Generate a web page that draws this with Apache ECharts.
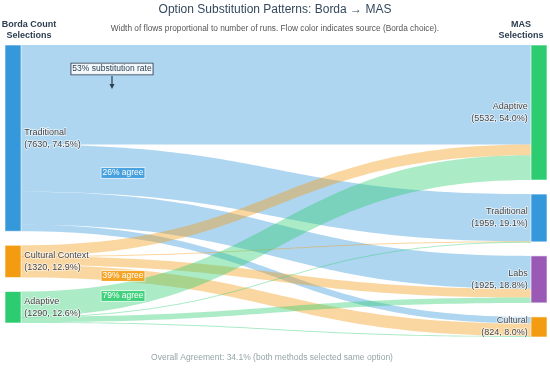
<!DOCTYPE html>
<html>
<head>
<meta charset="utf-8">
<script src="https://cdn.jsdelivr.net/npm/echarts@6/dist/echarts.min.js"></script>
<style>html,body{margin:0;padding:0;background:#fff}#c{width:550px;height:369px}</style>
</head>
<body>
<div id="c"></div>
<script>
// ---- data ----
const sourceNames = ['Traditional', 'Cultural Context', 'Adaptive'];   // Borda
const targetNames = ['Adaptive', 'Traditional', 'Labs', 'Cultural'];   // MAS
const sourceColors = ['#3498db', '#f39c12', '#2ecc71'];
const targetColors = ['#2ecc71', '#3498db', '#9b59b6', '#f39c12'];
// flows: rows = source, cols = target
const flowsFromTraditional = [4073, 1937, 1350, 270];
const flowsFromCultural    = [440, 12, 353, 515];
const flowsFromAdaptive    = [1019, 10, 222, 39];
const flowRows = [flowsFromTraditional, flowsFromCultural, flowsFromAdaptive];
const agreeLabels = ['26% agree', '39% agree', '79% agree'];
const substitutionLabel = '53% substitution rate';
const titleText = 'Option Substitution Patterns: Borda \u2192 MAS';
const subtitleText = 'Width of flows proportional to number of runs. Flow color indicates source (Borda choice).';
const footerText = 'Overall Agreement: 34.1% (both methods selected same option)';

// ---- build ----
const FONT = 'Liberation Sans, Arial, sans-serif';
const total = flowRows.reduce((s, r) => s + r.reduce((a, b) => a + b, 0), 0);
const srcTotals = flowRows.map(r => r.reduce((a, b) => a + b, 0));
const tgtTotals = targetNames.map((_, j) => flowRows.reduce((s, r) => s + r[j], 0));
const nodeInfo = {};
const nodes = [];
sourceNames.forEach((n, i) => {
  const id = 'S_' + n;
  nodeInfo[id] = { name: n, v: srcTotals[i] };
  nodes.push({ name: id, depth: 0, itemStyle: { color: sourceColors[i] }, label: { position: 'right' } });
});
targetNames.forEach((n, j) => {
  const id = 'T_' + n;
  nodeInfo[id] = { name: n, v: tgtTotals[j] };
  nodes.push({ name: id, depth: 1, itemStyle: { color: targetColors[j] }, label: { position: 'left' } });
});
function rgba(hex, a) {
  const r = parseInt(hex.slice(1, 3), 16), g = parseInt(hex.slice(3, 5), 16), b = parseInt(hex.slice(5, 7), 16);
  return `rgba(${r},${g},${b},${a})`;
}
const links = [];
flowRows.forEach((row, i) => row.forEach((v, j) => {
  links.push({ source: 'S_' + sourceNames[i], target: 'T_' + targetNames[j], value: v,
    lineStyle: { color: rgba(sourceColors[i], 0.4), opacity: 1 } });
}));

const chart = echarts.init(document.getElementById('c'), null, { renderer: 'canvas' });
const agreeBg = sourceColors.map(c => rgba(c, 0.85));
const agreeY = [173, 276, 296];

chart.setOption({
  animation: false,
  textStyle: { fontFamily: FONT },
  series: [{
    type: 'sankey',
    left: 5, right: 3, top: 45, bottom: 32,
    nodeWidth: 16, nodeGap: 14,
    layoutIterations: 0,
    draggable: false,
    emphasis: { disabled: true },
    data: nodes,
    links: links,
    itemStyle: { borderColor: '#fff', borderWidth: 0.6 },
    lineStyle: { curveness: 0.5 },
    label: {
      show: true, color: '#444', fontSize: 9, lineHeight: 12, fontFamily: FONT, distance: 3,
      textBorderColor: 'rgba(255,255,255,0.7)', textBorderWidth: 1.5,
      formatter: p => {
        const info = nodeInfo[p.name];
        return info.name + '\n(' + info.v + ', ' + (info.v / total * 100).toFixed(1) + '%)';
      }
    }
  }],
  graphic: [
    { type: 'text', z: 100, x: 275, y: 10, style: { text: titleText, fill: '#34495e', font: '12px ' + FONT, align: 'center', verticalAlign: 'middle' } },
    { type: 'text', z: 100, x: 275, y: 29, style: { text: subtitleText, fill: '#555', font: '8.3px ' + FONT, align: 'center', verticalAlign: 'middle' } },
    { type: 'text', z: 100, x: 29, y: 30, style: { text: 'Borda Count\nSelections', fill: '#2c3e50', font: 'bold 9px ' + FONT, lineHeight: 11, align: 'center', verticalAlign: 'middle' } },
    { type: 'text', z: 100, x: 521, y: 30, style: { text: 'MAS\nSelections', fill: '#2c3e50', font: 'bold 9px ' + FONT, lineHeight: 11, align: 'center', verticalAlign: 'middle' } },
    { type: 'text', z: 100, x: 112, y: 69, style: { text: substitutionLabel, fill: '#2c3e50', font: '8.5px ' + FONT, align: 'center', verticalAlign: 'middle',
      backgroundColor: 'rgba(255,255,255,0.85)', borderColor: '#2c3e50', borderWidth: 0.8, padding: [1, 1, 1, 1] } },
    { type: 'line', z: 100, shape: { x1: 112, y1: 76, x2: 112, y2: 85 }, style: { stroke: '#2c3e50', lineWidth: 1.2 } },
    { type: 'polygon', z: 100, shape: { points: [[109.5, 84], [114.5, 84], [112, 89]] }, style: { fill: '#2c3e50' } },
    ...agreeLabels.map((t, i) => ({ type: 'text', z: 100, x: 123, y: agreeY[i], style: {
      text: t, fill: '#fff', font: '8.5px ' + FONT, align: 'center', verticalAlign: 'middle',
      backgroundColor: agreeBg[i], borderColor: 'rgba(255,255,255,0.7)', borderWidth: 0.8, padding: [1, 1, 0, 1] } })),
    { type: 'text', z: 100, x: 272, y: 358, style: { text: footerText, fill: '#95a5a6', font: '8.5px ' + FONT, align: 'center', verticalAlign: 'middle' } }
  ]
});
</script>
</body>
</html>
